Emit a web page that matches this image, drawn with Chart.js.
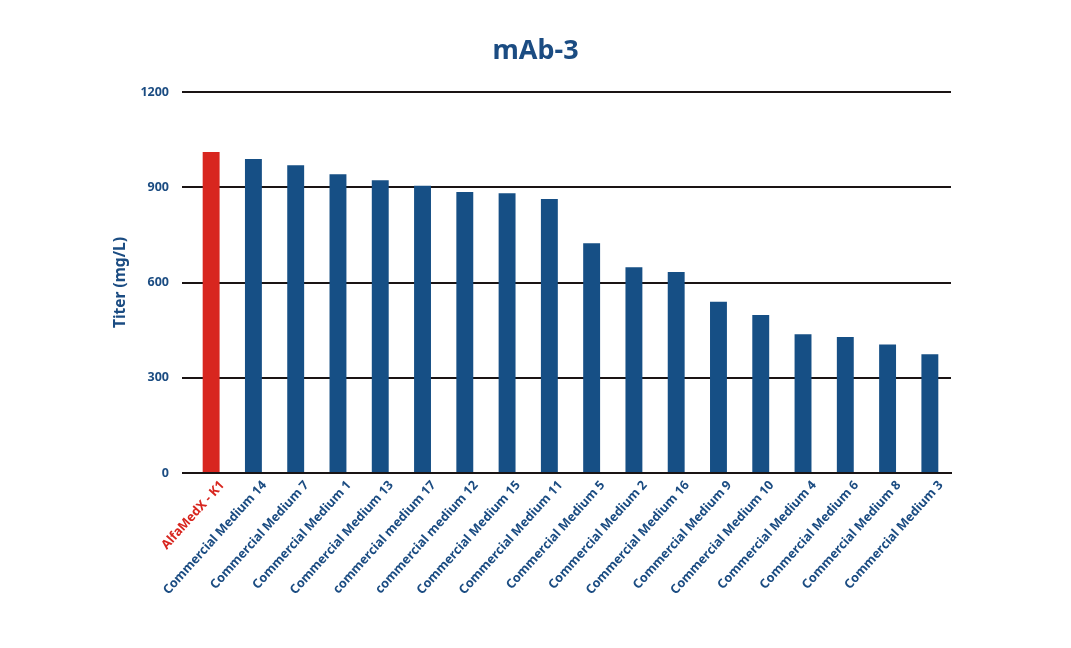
<!DOCTYPE html>
<html>
<head>
<meta charset="utf-8">
<script src="https://cdn.jsdelivr.net/npm/chart.js@4.4.1/dist/chart.umd.min.js"></script>
<style>
  html, body { margin: 0; padding: 0; background: #ffffff; }
  #wrap { width: 1071px; height: 648px; position: relative; }
</style>
</head>
<body>
<div id="wrap"><canvas id="c" width="1071" height="648"></canvas></div>
<script>
const categories = [
  "AlfaMedX - K1", "Commercial Medium 14", "Commercial Medium 7", "Commercial Medium 1",
  "Commercial Medium 13", "commercial medium 17", "commercial medium 12", "Commercial Medium 15",
  "Commercial Medium 11", "Commercial Medium 5", "Commercial Medium 2", "Commercial Medium 16",
  "Commercial Medium 9", "Commercial Medium 10", "Commercial Medium 4", "Commercial Medium 6",
  "Commercial Medium 8", "Commercial Medium 3"
];
const titerValues = [1011, 989, 969, 941, 922, 905, 885, 881, 863, 724, 648, 633, 539, 498, 437, 428, 405, 374];
const yTicks = [0, 300, 600, 900, 1200];
const titleText = "mAb-3";
const yAxisTitle = "Titer (mg/L)";

const BLUE = "#164f85";
const RED = "#d8261f";
const TEXT_BLUE = "#1b4c82";
const FONT = "'Noto Sans', 'Open Sans', sans-serif";

new Chart(document.getElementById('c'), {
  type: 'bar',
  data: {
    labels: categories,
    datasets: [{
      data: titerValues,
      yAxisID: 'y',
      backgroundColor: (ctx) => ctx.dataIndex === 0 ? RED : BLUE,
      borderWidth: 0,
      barPercentage: 0.8,
      categoryPercentage: 0.5
    }]
  },
  options: {
    responsive: false,
    animation: false,
    layout: { padding: { left: 0, right: 0, top: 0, bottom: 0 } },
    plugins: {
      legend: { display: false },
      tooltip: { enabled: false },
      title: {
        display: true,
        text: titleText,
        color: TEXT_BLUE,
        font: { family: FONT, size: 27, weight: 'bold', lineHeight: 1.2 },
        padding: { top: 35, bottom: 24.6 }
      }
    },
    scales: {
      x: {
        grid: { display: false, drawTicks: false },
        border: { display: true, color: '#1a1414', width: 2 },
        ticks: {
          autoSkip: false,
          minRotation: 48,
          maxRotation: 48,
          padding: 5,
          labelOffset: 11,
          color: (ctx) => ctx.index === 0 ? RED : TEXT_BLUE,
          font: { family: FONT, size: 12.6, weight: 'bold' }
        },
        afterFit: (scale) => { scale.height = 175; }
      },
      y: {
        position: 'left',
        min: 0,
        max: 1200,
        afterBuildTicks: (scale) => { scale.ticks = yTicks.map(v => ({ value: v })); },
        grid: { color: '#1a1414', lineWidth: 2, tickLength: 8, drawTicks: true },
        border: { display: false },
        ticks: {
          padding: 13,
          color: TEXT_BLUE,
          font: { family: FONT, size: 12.5, weight: 'bold' },
          callback: (v) => String(v)
        },
        title: {
          display: true,
          text: yAxisTitle,
          color: TEXT_BLUE,
          font: { family: FONT, size: 15.5, weight: 'bold', lineHeight: 1.2 },
          padding: { top: 111, bottom: 0 }
        },
        afterFit: (scale) => { scale.width = 190; }
      },
      yRight: {
        position: 'right',
        display: true,
        min: 0,
        max: 1200,
        grid: { display: false, drawOnChartArea: false, drawTicks: false },
        border: { display: false },
        ticks: { display: false },
        afterFit: (scale) => { scale.width = 120; }
      }
    }
  }
});
</script>
</body>
</html>
